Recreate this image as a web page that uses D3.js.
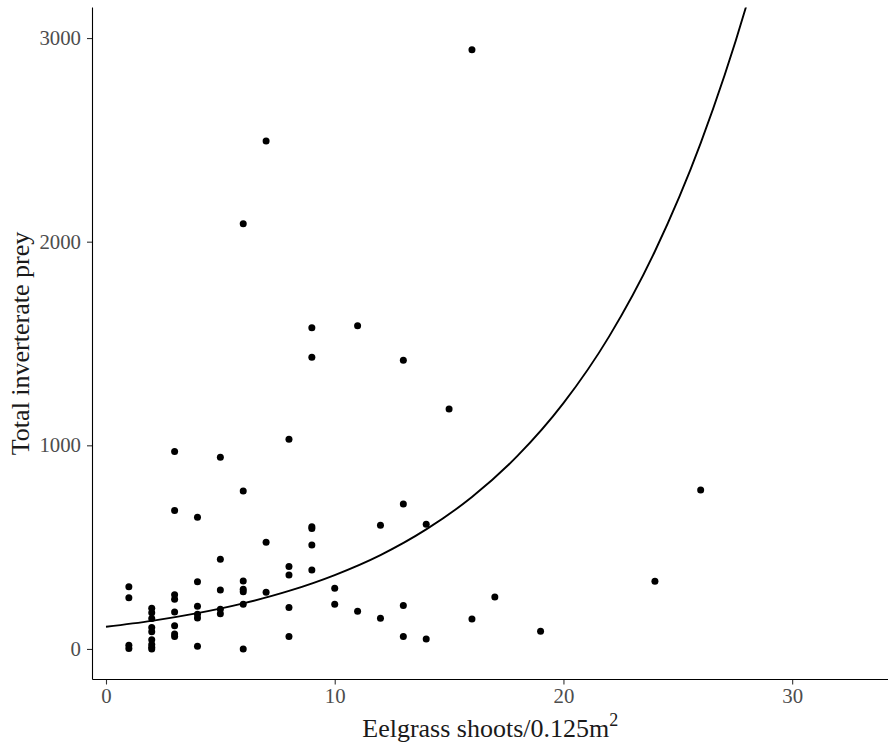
<!DOCTYPE html>
<html>
<head>
<meta charset="utf-8">
<script src="https://cdn.jsdelivr.net/npm/d3@7"></script>
<style>
  html, body { margin: 0; padding: 0; background: #fff; }
  svg { display: block; }
</style>
</head>
<body>
<svg id="chart" width="888" height="748"></svg>
<script>
// Observations: eelgrass shoots (x) and total invertebrate prey (y)
const shoots = [
  1, 1, 1, 1,
  2, 2, 2, 2, 2, 2, 2, 2, 2,
  3, 3, 3, 3, 3, 3, 3, 3,
  4, 4, 4, 4, 4, 4,
  5, 5, 5, 5, 5,
  6, 6, 6, 6, 6, 6, 6,
  7, 7, 7,
  8, 8, 8, 8, 8,
  9, 9, 9, 9, 9, 9,
  10, 10,
  11, 11,
  12, 12,
  13, 13, 13, 13,
  14, 14,
  15,
  16, 16,
  17,
  19,
  24,
  26
];
const prey = [
  305, 252, 18, 2,
  200, 178, 150, 105, 85, 45, 22, 8, 0,
  970, 680, 266, 244, 181, 114, 73, 61,
  647, 330, 210, 170, 152, 13,
  942, 441, 290, 195, 173,
  2088, 776, 334, 293, 281, 219, 0,
  2495, 524, 278,
  1030, 405, 363, 203, 61,
  1577, 1433, 600, 592, 510, 388,
  298, 220,
  1587, 185,
  607, 151,
  1418, 712, 213, 61,
  612, 49,
  1178,
  2942, 147,
  255,
  87,
  332,
  781
];

// Fitted curve
const curveX = [0, 2, 4, 6, 8, 10, 12, 14, 16, 18, 20, 22, 24, 26, 28, 30];
const curveY = [109, 138, 176, 224, 285, 363, 461, 587, 746, 949, 1207, 1535, 1953, 2484, 3160, 4019];

const xTicks = [0, 10, 20, 30];
const yTicks = [0, 1000, 2000, 3000];

const xTitle = "Eelgrass shoots/0.125m";
const xTitleSup = "2";
const yTitle = "Total inverterate prey";

const svg = d3.select("#chart");
const pLeft = 92.5, pRight = 888, pTop = 7.5, pBottom = 679.5;

const x = d3.scaleLinear().domain([-0.59, 34.19]).range([pLeft, pRight]);
const y = d3.scaleLinear().domain([-150, 3150]).range([pBottom, pTop]);

svg.append("defs").append("clipPath").attr("id", "panel")
  .append("rect").attr("x", pLeft).attr("y", pTop)
  .attr("width", pRight - pLeft).attr("height", pBottom - pTop);

const font = "'Liberation Serif', 'Times New Roman', serif";

// points
const pts = shoots.map((s, i) => ({ s, p: prey[i] }));
svg.append("g").attr("clip-path", "url(#panel)")
  .selectAll("circle").data(pts).join("circle")
  .attr("cx", d => x(d.s)).attr("cy", d => y(d.p))
  .attr("r", 3.5).attr("fill", "#000");

// fitted curve
const line = d3.line().x((d, i) => x(curveX[i])).y(d => y(d)).curve(d3.curveMonotoneX);
svg.append("g").attr("clip-path", "url(#panel)")
  .append("path").datum(curveY)
  .attr("d", line).attr("fill", "none")
  .attr("stroke", "#000").attr("stroke-width", 1.9);

// axes
const fmt = d3.format("d");
const xAxis = svg.append("g").attr("transform", `translate(0,${pBottom})`)
  .call(d3.axisBottom(x).tickValues(xTicks).tickFormat(fmt).tickSize(5).tickPadding(4).tickSizeOuter(0));
const yAxis = svg.append("g").attr("transform", `translate(${pLeft},0)`)
  .call(d3.axisLeft(y).tickValues(yTicks).tickFormat(fmt).tickSize(5.5).tickPadding(6).tickSizeOuter(0));

[xAxis, yAxis].forEach(g => {
  g.select(".domain").remove();
  g.selectAll(".tick line").attr("stroke", "#333").attr("stroke-width", 1.1);
  g.selectAll(".tick text").attr("fill", "#4d4d4d")
    .style("font-family", font).style("font-size", "20.8px");
});

// axis lines
svg.append("line").attr("x1", pLeft).attr("x2", pLeft).attr("y1", pTop).attr("y2", pBottom)
  .attr("stroke", "#000").attr("stroke-width", 1.1);
svg.append("line").attr("x1", pLeft).attr("x2", pRight).attr("y1", pBottom).attr("y2", pBottom)
  .attr("stroke", "#000").attr("stroke-width", 1.1);

// titles
const xt = svg.append("text")
  .attr("x", (pLeft + pRight) / 2).attr("y", 737)
  .attr("text-anchor", "middle")
  .style("font-family", font).style("font-size", "26px").attr("fill", "#1a1a1a");
xt.append("tspan").text(xTitle);
xt.append("tspan").attr("dy", -11).style("font-size", "18px").text(xTitleSup);

svg.append("text")
  .attr("transform", `translate(29,${(pTop + pBottom) / 2}) rotate(-90)`)
  .attr("text-anchor", "middle")
  .style("font-family", font).style("font-size", "26px").attr("fill", "#1a1a1a")
  .text(yTitle);
</script>
</body>
</html>
